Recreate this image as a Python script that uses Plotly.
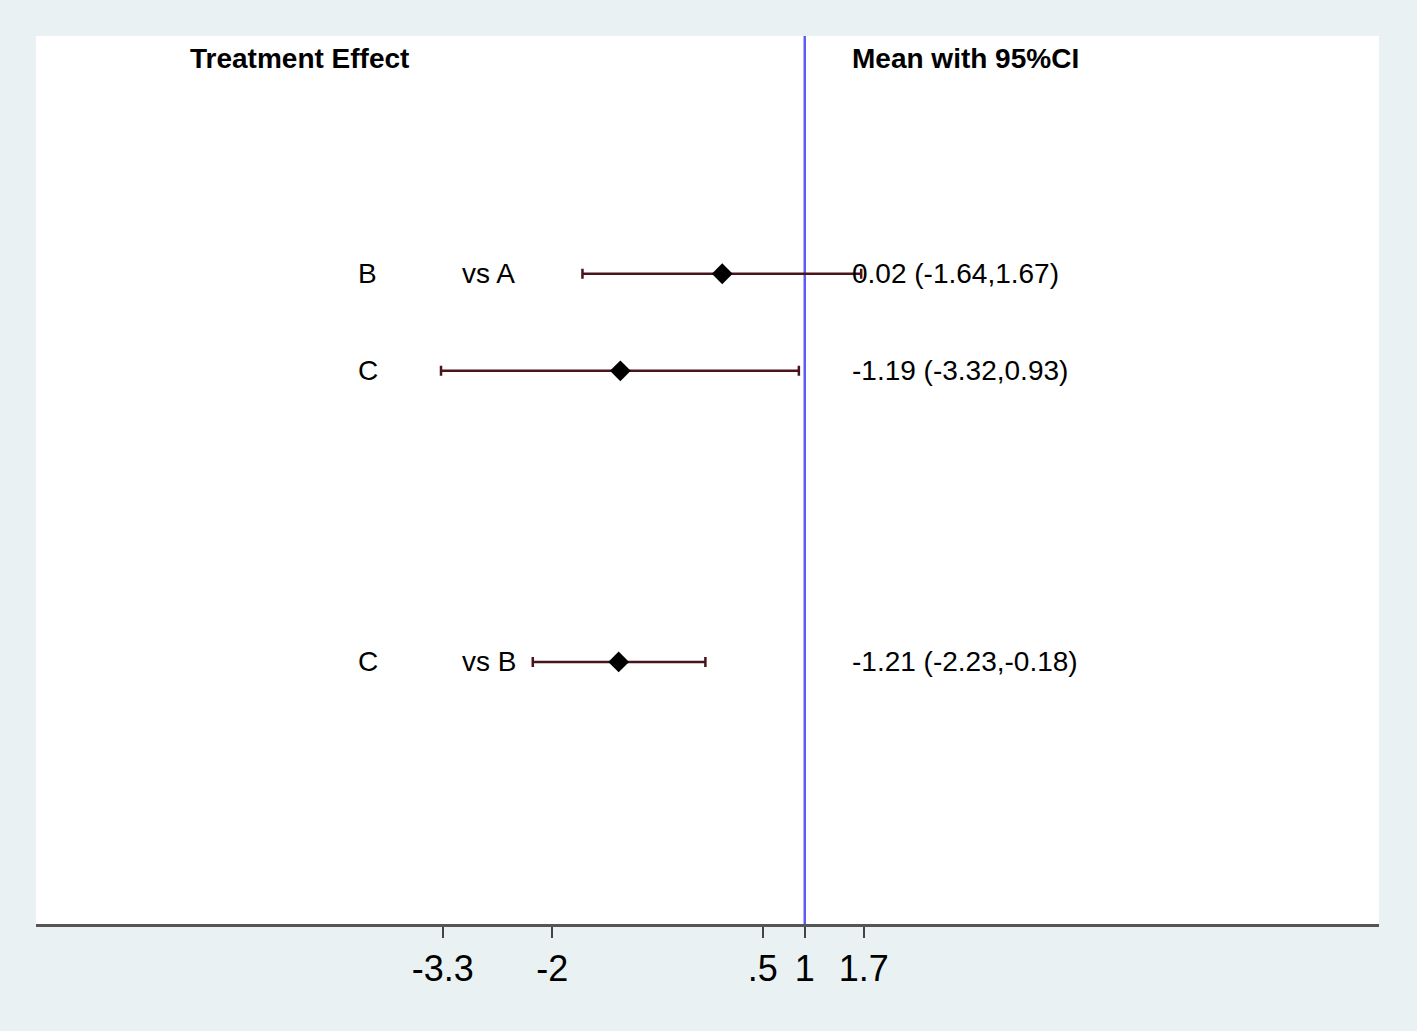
import plotly.graph_objects as go

# Forest plot data
treatments = ['B', 'C', 'C']
comparators = ['vs A', '', 'vs B']
means = [0.02, -1.19, -1.21]
lower = [-1.64, -3.32, -2.23]
upper = [1.67, 0.93, -0.18]
rows = [1, 2, 5]

tick_vals = [-3.3, -2, 0.5, 1, 1.7]
tick_text = ['-3.3', '-2', '.5', '1', '1.7']
ref_value = 1

FONT = 'Liberation Sans, Arial, sans-serif'

fig = go.Figure()

fig.add_trace(go.Scatter(
    x=means,
    y=rows,
    mode='markers',
    marker=dict(symbol='diamond', size=16, color='black'),
    error_x=dict(
        type='data',
        symmetric=False,
        array=[u - m for u, m in zip(upper, means)],
        arrayminus=[m - l for m, l in zip(means, lower)],
        color='#4a141c',
        thickness=2.5,
        width=5,
    ),
    showlegend=False,
    hoverinfo='skip',
))

# reference line
fig.add_shape(type='line', x0=ref_value, x1=ref_value, y0=0, y1=1,
              xref='x', yref='paper', line=dict(color='#5c5cf8', width=2.5), layer='below')

annotations = [
    dict(text='<b>Treatment Effect</b>', x=0.1135, y=-1.22, xanchor='left'),
    dict(text='<b>Mean with 95%CI</b>', x=0.606, y=-1.22, xanchor='left'),
]
for t, c, m, l, u, r in zip(treatments, comparators, means, lower, upper, rows):
    annotations.append(dict(text=t, x=0.247, y=r, xanchor='center'))
    if c:
        annotations.append(dict(text=c, x=0.316, y=r, xanchor='left'))
    annotations.append(dict(text=f'{m:.2f} ({l:.2f},{u:.2f})', x=0.606, y=r, xanchor='left'))

for a in annotations:
    a.update(xref='paper', yref='y', yanchor='middle', showarrow=False,
             font=dict(family=FONT, size=28, color='black'))

fig.update_layout(
    width=1417,
    height=1031,
    margin=dict(l=36, r=38, t=36, b=107),
    paper_bgcolor='#eaf1f3',
    plot_bgcolor='white',
    annotations=annotations,
    font=dict(family=FONT, color='black'),
)

fig.update_xaxes(
    range=[-8.13, 7.82],
    tickvals=tick_vals,
    ticktext=tick_text,
    ticks='outside',
    ticklen=11,
    tickwidth=2,
    tickcolor='#444',
    tickfont=dict(size=36, family=FONT, color='black'),
    showline=True,
    linecolor='#555',
    linewidth=2.5,
    showgrid=False,
    zeroline=False,
)
fig.update_yaxes(
    range=[7.70, -1.45],
    visible=False,
    showgrid=False,
    zeroline=False,
)

fig.write_html('out.html', config={'displayModeBar': False},
               post_script="document.body.style.margin='0';")
